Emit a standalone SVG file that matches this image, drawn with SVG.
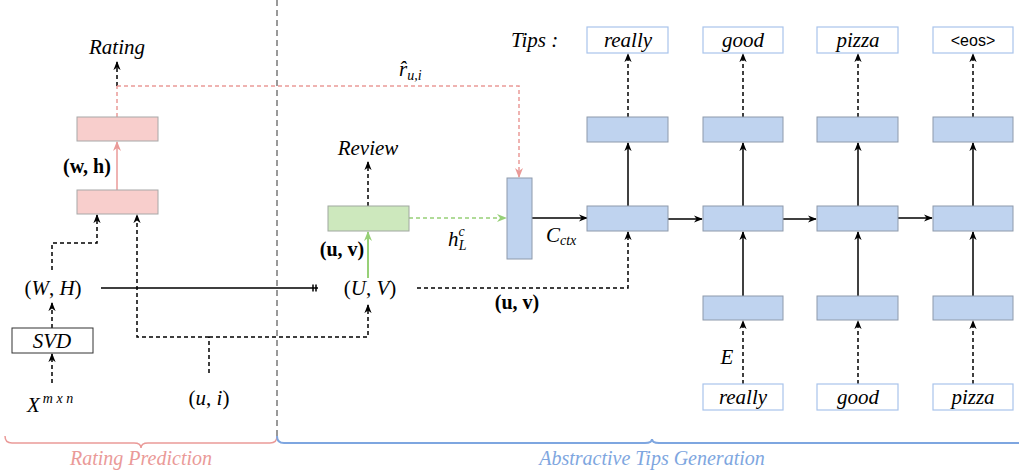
<svg xmlns="http://www.w3.org/2000/svg" width="1019" height="475" viewBox="0 0 1019 475">
<style>
.t{font-family:"Liberation Serif","DejaVu Serif",serif;font-style:italic;font-size:21px;fill:#000}
.m{font-family:"Liberation Serif","DejaVu Serif",serif;font-size:21px;fill:#000}
.b{font-family:"Liberation Serif","DejaVu Serif",serif;font-weight:bold;font-size:20px;fill:#000}
.pink{fill:#f8cecc;stroke:#a8a8a8;stroke-width:1}
.green{fill:#cde8bd;stroke:#a0a8a0;stroke-width:1}
.blue{fill:#bfd3ef;stroke:#8e9aab;stroke-width:1}
.word{fill:#fff;stroke:#a9c4eb;stroke-width:1.2}
.plain{fill:#fff;stroke:#333;stroke-width:1}
.dk{fill:none;stroke:#000;stroke-width:1.5;stroke-dasharray:4 3}
.sk{fill:none;stroke:#000;stroke-width:1.5}
.dp{fill:none;stroke:#ea9a98;stroke-width:1.5;stroke-dasharray:4 3}
.sp{fill:none;stroke:#ea9a98;stroke-width:1.5}
.dg{fill:none;stroke:#97d077;stroke-width:1.5;stroke-dasharray:4 3}
.sg{fill:none;stroke:#97d077;stroke-width:2}
.lab{font-family:"Liberation Serif","DejaVu Serif",serif;font-style:italic;font-size:20px}
</style>
<defs>
<marker id="ak" viewBox="0 0 10 10" refX="9" refY="5" markerWidth="9" markerHeight="9" markerUnits="userSpaceOnUse" orient="auto"><path d="M0,1 L10,5 L0,9 L3,5 z" fill="#000"/></marker>
<marker id="ap" viewBox="0 0 10 10" refX="9" refY="5" markerWidth="10" markerHeight="10" markerUnits="userSpaceOnUse" orient="auto"><path d="M0,1 L10,5 L0,9 L3,5 z" fill="#ea9a98"/></marker>
<marker id="ag" viewBox="0 0 10 10" refX="9" refY="5" markerWidth="10" markerHeight="10" markerUnits="userSpaceOnUse" orient="auto"><path d="M0,1 L10,5 L0,9 L3,5 z" fill="#97d077"/></marker>
</defs>

<!-- separator -->
<line x1="277" y1="0" x2="277" y2="438" stroke="#999" stroke-width="2" stroke-dasharray="6 4"/>

<!-- braces -->
<path d="M5,436 Q5,443 12,443 H134 Q141,443 141,448 Q141,443 148,443 H270 Q277,443 277,436" fill="none" stroke="#ea9a98" stroke-width="1.5"/>
<path d="M277,436 Q277,443 284,443 H645 Q652,443 652,439 Q652,443 659,443 H1019" fill="none" stroke="#7ea6e0" stroke-width="2"/>
<text class="lab" x="141" y="465" text-anchor="middle" fill="#ea9a98">Rating Prediction</text>
<text class="lab" x="652" y="465" text-anchor="middle" fill="#7ea6e0">Abstractive Tips Generation</text>

<!-- connectors -->
<g id="connectors">
<path class="dp" d="M117,117 V86"/>
<path class="dk" d="M117,86 V62" marker-end="url(#ak)"/>
<path class="dp" d="M117,86 H519 V177" marker-end="url(#ap)"/>
<path class="sp" d="M117,190 V142" marker-end="url(#ap)"/>
<path class="dk" d="M52,270 V243 H97 V215" marker-end="url(#ak)"/>
<path class="dk" d="M209,373 V337"/>
<path class="dk" d="M209,337 H137 V215" marker-end="url(#ak)"/>
<path class="dk" d="M209,337 H368 V305" marker-end="url(#ak)"/>
<path class="sk" d="M101,288 H318 M313,284.5 V291.5 M316,284.5 V291.5"/>
<path class="dk" d="M52,328 V303" marker-end="url(#ak)"/>
<path class="dk" d="M52,383 V354" marker-end="url(#ak)"/>
<path class="dk" d="M368,206 V162" marker-end="url(#ak)"/>
<path class="sg" d="M368,278 V232" marker-end="url(#ag)"/>
<path class="dg" d="M409,218 H506" marker-end="url(#ag)"/>
<path class="sk" d="M532,218 H587" marker-end="url(#ak)"/>
<path class="dk" d="M417,288 H628 V232" marker-end="url(#ak)"/>
<path class="dk" d="M628,117 V54" marker-end="url(#ak)"/>
<path class="dk" d="M743,117 V54" marker-end="url(#ak)"/>
<path class="dk" d="M858,117 V54" marker-end="url(#ak)"/>
<path class="dk" d="M973,117 V54" marker-end="url(#ak)"/>
<path class="sk" d="M628,206 V143" marker-end="url(#ak)"/>
<path class="sk" d="M743,206 V143" marker-end="url(#ak)"/>
<path class="sk" d="M858,206 V143" marker-end="url(#ak)"/>
<path class="sk" d="M973,206 V143" marker-end="url(#ak)"/>
<path class="sk" d="M668,219 H702" marker-end="url(#ak)"/>
<path class="sk" d="M783,219 H816" marker-end="url(#ak)"/>
<path class="sk" d="M898,218 H932" marker-end="url(#ak)"/>
<path class="sk" d="M743,296 V232" marker-end="url(#ak)"/>
<path class="sk" d="M858,296 V232" marker-end="url(#ak)"/>
<path class="sk" d="M973,296 V232" marker-end="url(#ak)"/>
<path class="dk" d="M743,384 V321" marker-end="url(#ak)"/>
<path class="dk" d="M858,384 V321" marker-end="url(#ak)"/>
<path class="dk" d="M973,384 V321" marker-end="url(#ak)"/>
</g>

<!-- left rating part -->
<g id="rating-label"><text class="t" x="117" y="54" text-anchor="middle">Rating</text></g>
<g id="pink-top"><rect class="pink" x="77" y="117" width="81" height="24"/></g>
<g id="pink-bottom"><rect class="pink" x="77" y="190" width="81" height="24"/></g>
<g id="wh-label"><text class="b" x="87" y="173" text-anchor="middle">(w, h)</text></g>
<g id="WH"><text class="m" x="53" y="295" text-anchor="middle">(<tspan font-style="italic">W</tspan>, <tspan font-style="italic">H</tspan>)</text></g>
<g id="svd"><rect class="plain" x="12" y="328" width="81" height="25"/><text class="t" x="52" y="348" text-anchor="middle">SVD</text></g>
<g id="X"><text class="t" x="27" y="412">X<tspan font-size="14" dy="-9" dx="3">m x n</tspan></text></g>
<g id="ui"><text class="m" x="209" y="405" text-anchor="middle">(<tspan font-style="italic">u</tspan>, <tspan font-style="italic">i</tspan>)</text></g>

<!-- middle -->
<g id="review-label"><text class="t" x="368" y="155" text-anchor="middle">Review</text></g>
<g id="green-box"><rect class="green" x="328" y="206" width="81" height="25"/></g>
<g id="uv1"><text class="b" x="342" y="256" text-anchor="middle">(u, v)</text></g>
<g id="UV"><text class="m" x="370" y="295" text-anchor="middle">(<tspan font-style="italic">U</tspan>, <tspan font-style="italic">V</tspan>)</text></g>
<g id="uv2"><text class="b" x="517" y="309" text-anchor="middle">(u, v)</text></g>
<g id="hlc"><text class="t" x="448" y="246">h<tspan font-size="14" dy="-10">c</tspan><tspan font-size="14" dx="-6" dy="14">L</tspan></text></g>
<g id="rhat"><text class="t" x="399" y="76">r&#x302;<tspan font-size="14" dy="4">u,i</tspan></text></g>
<g id="ctx-box"><rect class="blue" x="507" y="178" width="25" height="81"/></g>
<g id="cctx"><text class="t" x="546" y="242">C<tspan font-size="14" dy="3">ctx</tspan></text></g>

<!-- right columns -->
<g id="tips-label"><text class="t" x="511" y="47">Tips :</text></g>
<g id="out1"><rect class="word" x="587" y="27" width="81" height="26"/><text class="t" x="628" y="47" text-anchor="middle">really</text></g>
<g id="out2"><rect class="word" x="703" y="27" width="80" height="26"/><text class="t" x="743" y="47" text-anchor="middle">good</text></g>
<g id="out3"><rect class="word" x="817" y="27" width="81" height="26"/><text class="t" x="858" y="47" text-anchor="middle">pizza</text></g>
<g id="out4"><rect class="word" x="933" y="27" width="80" height="26"/><text x="973" y="46" text-anchor="middle" style="font-family:'Liberation Sans',Arial,sans-serif;font-size:16px">&lt;eos&gt;</text></g>

<g id="up1"><rect class="blue" x="587" y="117" width="81" height="25"/></g>
<g id="up2"><rect class="blue" x="703" y="117" width="80" height="25"/></g>
<g id="up3"><rect class="blue" x="817" y="117" width="81" height="25"/></g>
<g id="up4"><rect class="blue" x="933" y="117" width="80" height="25"/></g>

<g id="mid1"><rect class="blue" x="587" y="206" width="81" height="25"/></g>
<g id="mid2"><rect class="blue" x="703" y="206" width="80" height="25"/></g>
<g id="mid3"><rect class="blue" x="817" y="206" width="81" height="25"/></g>
<g id="mid4"><rect class="blue" x="933" y="206" width="80" height="25"/></g>

<g id="low2"><rect class="blue" x="703" y="296" width="80" height="24"/></g>
<g id="low3"><rect class="blue" x="817" y="296" width="81" height="24"/></g>
<g id="low4"><rect class="blue" x="933" y="296" width="80" height="24"/></g>

<g id="E"><text class="t" x="727" y="364" text-anchor="middle">E</text></g>

<g id="in2"><rect class="word" x="703" y="384" width="80" height="26"/><text class="t" x="743" y="404" text-anchor="middle">really</text></g>
<g id="in3"><rect class="word" x="817" y="384" width="81" height="26"/><text class="t" x="858" y="404" text-anchor="middle">good</text></g>
<g id="in4"><rect class="word" x="933" y="384" width="80" height="26"/><text class="t" x="973" y="404" text-anchor="middle">pizza</text></g>
</svg>
